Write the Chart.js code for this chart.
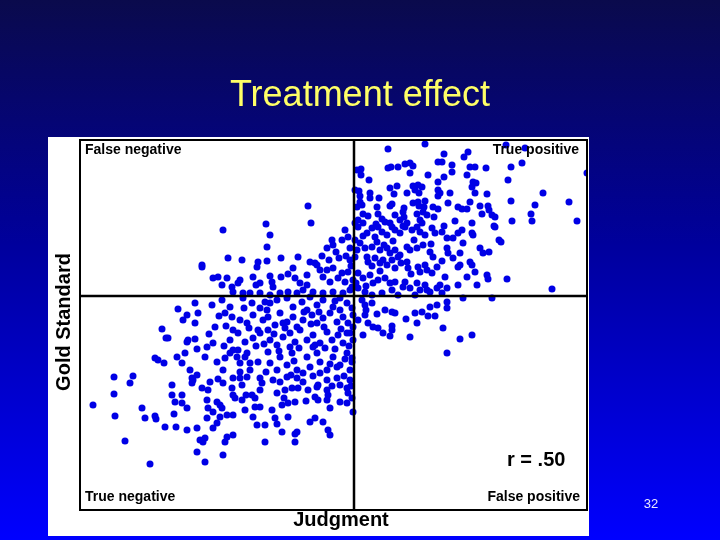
<!DOCTYPE html>
<html>
<head>
<meta charset="utf-8">
<title>Treatment effect</title>
<script src="https://cdn.jsdelivr.net/npm/chart.js@4.4.1/dist/chart.umd.min.js"></script>
<style>
    html, body { margin: 0; padding: 0; background: #000060; }
    canvas { display: block; }
</style>
</head>
<body>
<canvas id="scatterChart" width="720" height="540"></canvas>
<script>
// Scores: [judgment, gold standard], both centred on the cut-off (0)

const truePositive = [
    [3.4, 14.7], [7.1, 15.2], [9.0, 14.2], [11.0, 13.9], [11.4, 14.4], [0.7, 12.7], [3.4, 12.8], [3.7, 12.9],
    [4.4, 12.9], [5.1, 13.2], [5.6, 13.3], [5.9, 13.0], [5.6, 12.3], [8.4, 13.4], [8.8, 13.4], [9.8, 13.1],
    [9.8, 12.4], [11.6, 12.9], [12.1, 12.9], [13.2, 12.8], [0.7, 12.1], [1.5, 11.6], [7.4, 12.1], [9.0, 11.9],
    [11.3, 12.1], [11.9, 11.4], [12.2, 11.3], [11.8, 10.9], [8.4, 11.4], [0.1, 10.6], [0.5, 10.5], [1.6, 10.3],
    [1.6, 9.8], [3.6, 10.8], [4.3, 11.0], [4.0, 10.2], [5.3, 10.3], [5.9, 11.0], [6.4, 11.1], [6.8, 10.9],
    [6.5, 10.3], [6.1, 10.6], [8.4, 10.6], [8.6, 10.3], [8.4, 10.0], [9.6, 10.3], [12.1, 10.3], [13.3, 10.2],
    [0.6, 9.4], [0.8, 9.1], [2.3, 8.9], [3.6, 9.0], [3.8, 9.2], [5.0, 8.8], [4.9, 8.4], [5.9, 9.3],
    [6.4, 9.4], [7.1, 9.5], [6.5, 9.0], [7.0, 8.9], [7.9, 8.9], [8.4, 8.7], [9.4, 9.3], [10.4, 8.9],
    [10.8, 8.7], [11.3, 8.7], [11.6, 9.4], [12.6, 9.0], [13.4, 9.0], [13.5, 8.6], [0.9, 8.2], [1.4, 8.0],
    [2.4, 8.2], [2.8, 7.7], [4.1, 8.1], [5.0, 7.9], [6.3, 8.2], [6.9, 8.4], [7.3, 8.1], [8.0, 7.9],
    [10.1, 7.5], [11.8, 7.3], [12.8, 8.2], [13.8, 8.1], [14.1, 7.9], [0.4, 7.6], [0.9, 7.3], [3.1, 7.4],
    [3.6, 7.3], [5.3, 7.3], [4.9, 7.0], [6.6, 7.6], [6.8, 7.3], [9.0, 7.0], [14.0, 7.0],
    [15.2, 15.1], [17.1, 14.8], [16.8, 13.3], [15.7, 12.9], [15.4, 11.6], [23.3, 12.3], [18.9, 10.3],
    [15.7, 9.5], [18.1, 9.1], [21.5, 9.4], [17.7, 8.2], [17.8, 7.5], [15.8, 7.5], [22.3, 7.5], [15.3, 1.7],
    [19.8, 0.7], [0.3, 12.6], [0.3, 8.9], [0.1, 7.3],
    [0.4, 6.9], [1.3, 6.3], [1.8, 6.8], [2.4, 6.9], [2.8, 6.4], [3.3, 6.1], [3.8, 6.9], [4.1, 6.6],
    [4.6, 6.3], [5.1, 6.9], [5.8, 6.6], [6.3, 6.9], [6.6, 6.4], [7.1, 6.1], [7.8, 6.8], [8.1, 6.3],
    [8.8, 6.4], [9.3, 5.8], [9.9, 5.8], [10.4, 6.3], [10.8, 6.6], [10.9, 5.3], [11.8, 6.3], [11.9, 6.1],
    [12.6, 4.8], [12.9, 4.3], [13.5, 4.4], [14.1, 6.9], [14.5, 5.6], [14.7, 5.4], [0.1, 5.6], [0.6, 5.3],
    [1.1, 4.8], [1.8, 4.9], [2.3, 5.4], [2.6, 4.6], [3.3, 4.8], [3.6, 4.3], [4.1, 4.6], [4.6, 4.1],
    [5.3, 4.9], [5.6, 4.6], [6.3, 4.8], [6.9, 5.1], [7.6, 4.4], [7.9, 3.9], [9.3, 4.8], [9.4, 4.3],
    [9.9, 3.8], [10.6, 4.3], [10.6, 3.1], [11.6, 3.4], [11.8, 3.1], [0.1, 3.9], [1.3, 3.9], [1.4, 3.4],
    [2.1, 3.8], [2.6, 3.3], [2.9, 3.6], [3.3, 3.1], [3.8, 3.6], [4.1, 2.8], [4.4, 3.9], [5.3, 3.4],
    [5.4, 2.8], [6.4, 2.9], [6.6, 2.4], [7.1, 3.1], [7.3, 2.6], [7.8, 2.3], [8.3, 2.9], [9.1, 1.9],
    [10.4, 2.9], [11.3, 1.9], [12.1, 2.4], [13.3, 2.1], [13.4, 1.7], [0.4, 2.3], [0.9, 1.8], [1.6, 2.1],
    [1.9, 1.3], [2.4, 1.6], [3.1, 1.8], [3.6, 1.3], [4.1, 1.4], [4.9, 0.9], [5.1, 1.4], [5.6, 0.8],
    [6.3, 1.3], [6.6, 0.6], [7.1, 1.1], [7.6, 0.4], [8.3, 0.8], [8.6, 1.1], [8.8, 0.3], [9.3, 0.8],
    [10.4, 1.1], [12.3, 1.1], [0.4, 0.8], [1.1, 0.4], [1.8, 0.1], [2.8, 0.3], [3.8, 0.6], [4.4, 0.1],
    [6.1, 0.1], [7.3, 0.6],
    [0.3, 4.6], [0.9, 6.0], [1.8, 3.0], [2.1, 5.9], [3.0, 5.1], [3.9, 5.5], [4.7, 3.3], [5.7, 2.2],
    [4.6, 7.6], [2.2, 7.2], [0.2, 1.3], [1.2, 1.0], [2.6, 2.5], [6.0, 5.6], [7.7, 5.2], [8.8, 3.5],
    [0.6, 10.0], [2.5, 9.8]
];

const falsePositive = [
    [0.8, -0.4], [1.1, -0.9], [1.8, -0.7], [3.1, -1.4], [3.8, -1.6], [4.1, -1.7], [6.1, -1.7], [6.8, -1.6],
    [7.6, -1.1], [8.3, -0.9], [9.3, -0.6], [9.3, -1.2], [10.9, -0.2], [13.8, -0.2], [5.2, -2.3], [6.3, -2.7],
    [5.6, -4.1], [7.4, -2.0], [8.1, -2.0], [8.9, -3.2], [10.6, -4.3], [11.8, -3.9], [9.3, -5.7], [1.1, -1.9],
    [1.4, -2.7], [1.9, -3.1], [2.4, -3.2], [2.9, -3.7], [3.6, -4.0], [3.8, -3.4], [3.8, -3.0], [0.9, -3.9],
    [1.2, -1.4], [2.3, -1.8], [0.4, -2.4]
];

const falseNegative = [
    [-4.6, 9.0], [-4.3, 7.3], [-13.1, 6.6], [-8.8, 7.2], [-8.4, 6.1], [-8.7, 4.9], [-12.6, 3.8], [-11.2, 3.6],
    [-15.2, 3.1], [-15.2, 2.9], [-9.6, 3.4], [-8.7, 3.5], [-9.7, 2.9], [-7.3, 3.8], [-5.6, 3.9], [-4.4, 3.4],
    [-3.9, 3.3], [-2.7, 4.8], [-2.2, 5.6], [-2.1, 5.1], [-1.2, 5.6], [-0.9, 6.6], [-0.8, 4.0], [-0.4, 4.8],
    [-0.4, 3.6], [-1.5, 3.8], [-0.3, 3.0], [-2.5, 3.6], [-1.8, 4.4], [-0.6, 5.9], [-3.2, 4.0],
    [-14.1, 1.8], [-13.6, 1.9], [-13.2, 1.1], [-12.7, 1.8], [-12.2, 0.9], [-12.1, 0.4], [-11.6, 1.3], [-11.4, 1.6],
    [-10.1, 1.9], [-9.8, 1.1], [-9.4, 1.3], [-8.4, 2.0], [-8.2, 1.4], [-8.1, 0.9], [-7.3, 1.9], [-6.6, 2.2],
    [-6.1, 2.8], [-5.9, 1.8], [-5.4, 1.3], [-4.7, 2.1], [-4.7, 1.1], [-3.7, 3.1], [-3.4, 2.6], [-3.1, 1.9],
    [-2.7, 2.6], [-2.4, 1.4], [-2.1, 2.8], [-1.6, 1.8], [-1.2, 2.3], [-0.9, 1.4], [-0.6, 2.4], [-0.2, 0.9],
    [-0.1, 1.6], [-11.1, 0.3], [-10.4, 0.3], [-9.4, 0.3], [-8.4, 0.1], [-7.4, 0.3], [-6.6, 0.4], [-5.7, 0.3],
    [-5.1, 0.6], [-4.1, 0.4], [-3.1, 0.3], [-2.1, 0.4], [-1.1, 0.3], [-0.4, 0.6]
];

const trueNegative = [
    [-26.1, -10.9], [-24.0, -8.1], [-24.0, -9.8], [-23.9, -12.0], [-22.9, -14.5], [-22.4, -8.7], [-22.1, -8.0],
    [-21.2, -11.2], [-20.9, -12.2], [-19.9, -12.0], [-19.8, -12.3], [-20.4, -16.8], [-19.2, -3.3], [-18.8, -4.2],
    [-18.6, -4.2], [-19.9, -6.2], [-19.6, -6.4], [-19.0, -6.7], [-18.9, -13.1], [-17.8, -13.1], [-18.0, -11.8],
    [-18.2, -9.9], [-18.2, -8.9], [-17.9, -10.6], [-17.6, -1.3], [-17.7, -6.1], [-16.7, -1.9], [-16.6, -4.4],
    [-15.9, -4.3], [-15.7, -5.3], [-16.1, -8.4], [-17.2, -6.7],
    [-15.9, -0.7], [-14.2, -0.9], [-13.2, -0.4], [-12.4, -1.1], [-11.1, -0.2], [-10.2, -0.7], [-9.4, -1.2],
    [-8.4, -0.7], [-7.7, -0.4], [-6.7, -0.2], [-6.1, -1.1], [-5.2, -0.6], [-4.4, -0.1], [-3.7, -0.9], [-3.1, -0.4],
    [-2.1, -1.1], [-1.4, -0.2], [-0.7, -0.7], [-0.2, -1.2], [-15.6, -1.7], [-17.1, -2.4],
    [-13.9, -3.1], [-12.9, -1.7], [-12.2, -2.1], [-11.4, -2.4], [-10.7, -2.7], [-10.1, -1.9], [-9.1, -2.4],
    [-8.6, -2.1], [-7.9, -2.9], [-7.4, -1.7], [-6.7, -2.6], [-6.1, -2.1], [-5.7, -3.1], [-5.1, -2.4], [-4.2, -1.9],
    [-3.7, -2.7], [-3.1, -2.2], [-2.4, -1.7], [-1.7, -2.6], [-1.1, -2.1], [-0.6, -2.7], [-0.1, -1.9], [-15.9, -2.7],
    [-16.7, -4.6], [-14.7, -5.1], [-14.1, -4.7], [-12.4, -4.4], [-11.6, -3.7], [-10.9, -4.6], [-10.1, -4.2],
    [-9.4, -3.7], [-8.6, -3.4], [-8.4, -4.4], [-7.7, -4.9], [-7.1, -4.1], [-6.4, -3.7], [-5.9, -4.6], [-5.4, -3.4],
    [-4.7, -4.4], [-4.1, -3.9], [-3.4, -4.7], [-2.7, -3.6], [-2.2, -4.4], [-1.6, -3.9], [-1.1, -4.7], [-0.4, -3.7],
    [-0.1, -4.4], [-12.1, -3.4], [-16.9, -5.7], [-16.4, -7.4], [-14.9, -6.1], [-13.7, -6.6], [-12.1, -5.4],
    [-11.7, -6.1], [-11.4, -6.7], [-10.7, -5.7], [-10.4, -7.4], [-9.6, -6.6], [-8.6, -5.6], [-8.4, -6.7],
    [-7.4, -6.1], [-6.7, -6.9], [-6.2, -5.7], [-5.7, -7.4], [-4.7, -6.1], [-4.4, -7.1], [-3.7, -5.7], [-3.4, -6.6],
    [-2.7, -7.4], [-2.1, -6.1], [-1.4, -6.9], [-0.7, -5.7], [-0.4, -7.4], [-13.1, -7.4], [-15.7, -7.9],
    [-11.6, -5.4], [-10.9, -6.1], [-11.4, -7.6], [-7.1, -2.7], [-6.4, -5.1], [-4.1, -5.1], [-1.7, -7.1],
    [-0.7, -3.7], [-0.1, -3.1], [-0.2, -6.2], [-8.7, -1.4], [-9.6, -3.4], [-12.4, -5.7], [-10.4, -6.7],
    [-7.7, -7.4], [-5.1, -7.7], [-3.4, -7.7], [-1.4, -1.4], [-4.7, -1.4], [-0.2, -6.6], [-0.6, -9.7],
    [-16.2, -8.2], [-16.2, -8.7], [-14.4, -8.6], [-13.6, -8.3], [-13.1, -8.7], [-12.1, -8.2], [-11.4, -8.2],
    [-10.7, -8.1], [-9.4, -8.2], [-9.2, -8.7], [-8.1, -8.4], [-7.4, -8.6], [-6.7, -8.1], [-5.7, -8.2], [-5.1, -8.6],
    [-3.6, -8.9], [-2.7, -8.4], [-1.7, -8.2], [-0.4, -8.4], [-15.2, -9.2], [-14.6, -9.4], [-12.2, -9.2],
    [-12.1, -9.9], [-11.9, -10.2], [-10.2, -9.9], [-9.4, -9.4], [-9.9, -10.2], [-7.7, -9.7], [-6.9, -9.4],
    [-6.2, -9.2], [-5.6, -9.2], [-4.6, -9.4], [-3.7, -9.1], [-2.7, -9.4], [-2.6, -9.9], [-1.4, -8.9], [-0.7, -9.2],
    [-0.2, -10.2], [-17.2, -9.9], [-3.9, -10.1], [-3.6, -10.4], [-17.2, -10.7], [-16.7, -11.2], [-14.7, -10.4],
    [-14.6, -11.2], [-14.1, -11.6], [-13.7, -10.6], [-13.4, -10.9], [-13.2, -11.2], [-11.2, -10.4], [-10.9, -11.4],
    [-9.9, -11.1], [-9.4, -11.1], [-8.2, -11.4], [-7.2, -10.9], [-6.6, -10.7], [-5.9, -10.6], [-2.7, -10.4],
    [-2.4, -11.2], [-1.4, -10.6], [-0.7, -10.7], [-0.1, -11.6], [-16.7, -13.4], [-15.7, -13.2], [-14.7, -12.2],
    [-14.1, -13.2], [-13.7, -12.7], [-13.4, -12.1], [-12.7, -11.9], [-12.1, -11.9], [-10.1, -12.1], [-9.7, -12.9],
    [-8.9, -12.9], [-7.9, -12.2], [-7.7, -12.8], [-7.2, -13.6], [-6.6, -12.1], [-5.7, -13.6], [-5.9, -13.8],
    [-4.4, -12.6], [-3.9, -12.2], [-3.1, -12.6], [-2.6, -13.4], [-2.4, -13.9], [-15.4, -14.4], [-15.1, -14.6],
    [-14.9, -14.2], [-15.7, -15.6], [-13.1, -15.9], [-12.7, -14.1], [-12.9, -14.6], [-12.1, -13.9], [-8.9, -14.6],
    [-5.9, -14.6], [-14.9, -16.6],
    [-13.5, -2.0], [-12.8, -3.0], [-11.0, -1.2], [-10.5, -3.2], [-9.8, -5.0], [-9.0, -4.8], [-8.0, -3.8],
    [-7.5, -5.5], [-6.9, -3.2], [-6.0, -6.5], [-5.5, -5.2], [-5.0, -1.6], [-4.3, -2.8], [-3.9, -4.9],
    [-3.0, -3.1], [-2.9, -5.2], [-2.4, -6.8], [-1.9, -5.3], [-1.3, -3.3], [-0.9, -6.3], [-0.5, -5.0],
    [-1.9, -0.5], [-3.5, -1.6], [-8.9, -0.6], [-13.0, -5.0], [-14.5, -3.8], [-12.9, -6.2], [-11.2, -8.9],
    [-8.8, -7.6], [-6.3, -7.9], [-4.1, -8.0], [-2.2, -9.0], [-1.0, -8.0], [-0.3, -9.0], [-7.0, -10.2],
    [-4.8, -10.5], [-10.8, -9.9]
];

// Axis ranges (cut-off lines sit at 0 on both axes)
const judgmentRange = [-27.4, 23.3];
const goldRange = [-21.4, 15.6];

const titleText = 'Treatment effect';
const xTitle = 'Judgment';
const yTitle = 'Gold Standard';
const quadrantLabels = ['False negative', 'True positive', 'True negative', 'False positive'];
const rText = 'r = .50';
const slideNumber = '32';

const allPoints = [...truePositive, ...falsePositive, ...falseNegative, ...trueNegative]
    .map(([x, y]) => ({ x: x, y: y }));

const FONT = '"Liberation Sans", Arial, Helvetica, sans-serif';

/**
 * Draws the slide around the scatter: gradient, white panel, box, cut-off lines and texts
 */
const slidePlugin = {
    id: 'slide',
    beforeDraw(chart) {
        const { ctx, width, height, chartArea: a } = chart;
        ctx.save();
        const grad = ctx.createLinearGradient(0, 0, 0, height);
        grad.addColorStop(0, '#0a0a4c');
        grad.addColorStop(0.45, '#00009c');
        grad.addColorStop(1, '#0000ff');
        ctx.fillStyle = grad;
        ctx.fillRect(0, 0, width, height);

        // white panel behind the plot
        ctx.fillStyle = '#ffffff';
        ctx.fillRect(a.left - 32, a.top - 3, a.right - a.left + 34, a.bottom - a.top + 29);

        // title
        ctx.fillStyle = '#ffff66';
        ctx.font = '36px ' + FONT;
        ctx.textAlign = 'center';
        ctx.textBaseline = 'alphabetic';
        ctx.fillText(titleText, width / 2, 106);

        // slide number
        ctx.fillStyle = '#e8e8ff';
        ctx.font = '13px ' + FONT;
        ctx.textBaseline = 'middle';
        ctx.fillText(slideNumber, 651, 504);
        ctx.restore();
    },
    afterDatasetsDraw(chart) {
        const { ctx, chartArea: a, scales } = chart;
        const x0 = scales.x.getPixelForValue(0);
        const y0 = scales.y.getPixelForValue(0);
        ctx.save();
        ctx.strokeStyle = '#000000';

        // cut-off lines
        ctx.lineWidth = 2.5;
        ctx.beginPath();
        ctx.moveTo(x0, a.top);
        ctx.lineTo(x0, a.bottom);
        ctx.moveTo(a.left, y0);
        ctx.lineTo(a.right, y0);
        ctx.stroke();

        // box
        ctx.lineWidth = 2;
        ctx.strokeRect(a.left, a.top, a.right - a.left, a.bottom - a.top);

        // quadrant labels
        ctx.fillStyle = '#000000';
        ctx.font = 'bold 14px ' + FONT;
        ctx.textBaseline = 'middle';
        ctx.textAlign = 'left';
        ctx.fillText(quadrantLabels[0], a.left + 5, a.top + 10);
        ctx.fillText(quadrantLabels[2], a.left + 5, a.bottom - 13);
        ctx.textAlign = 'right';
        ctx.fillText(quadrantLabels[1], a.right - 8, a.top + 10);
        ctx.fillText(quadrantLabels[3], a.right - 7, a.bottom - 13);

        // correlation
        ctx.font = 'bold 20px ' + FONT;
        ctx.textAlign = 'left';
        ctx.fillText(rText, 507, 460);

        // axis titles
        ctx.textAlign = 'center';
        ctx.fillText(xTitle, 341, 520);
        ctx.translate(64, 322);
        ctx.rotate(-Math.PI / 2);
        ctx.fillText(yTitle, 0, 0);
        ctx.restore();
    }
};

const ctx = document.getElementById('scatterChart').getContext('2d');
new Chart(ctx, {
    type: 'scatter',
    data: {
        datasets: [{
            label: 'Cases',
            data: allPoints,
            backgroundColor: '#0000e6',
            borderWidth: 0,
            pointRadius: 3.5,
            pointHoverRadius: 3.5
        }]
    },
    options: {
        responsive: false,
        animation: false,
        layout: {
            padding: { left: 80, right: 133, top: 140, bottom: 30 }
        },
        plugins: {
            legend: { display: false },
            tooltip: { enabled: false }
        },
        scales: {
            x: { type: 'linear', min: judgmentRange[0], max: judgmentRange[1], display: false },
            y: { type: 'linear', min: goldRange[0], max: goldRange[1], display: false }
        }
    },
    plugins: [slidePlugin]
});
</script>
</body>
</html>
